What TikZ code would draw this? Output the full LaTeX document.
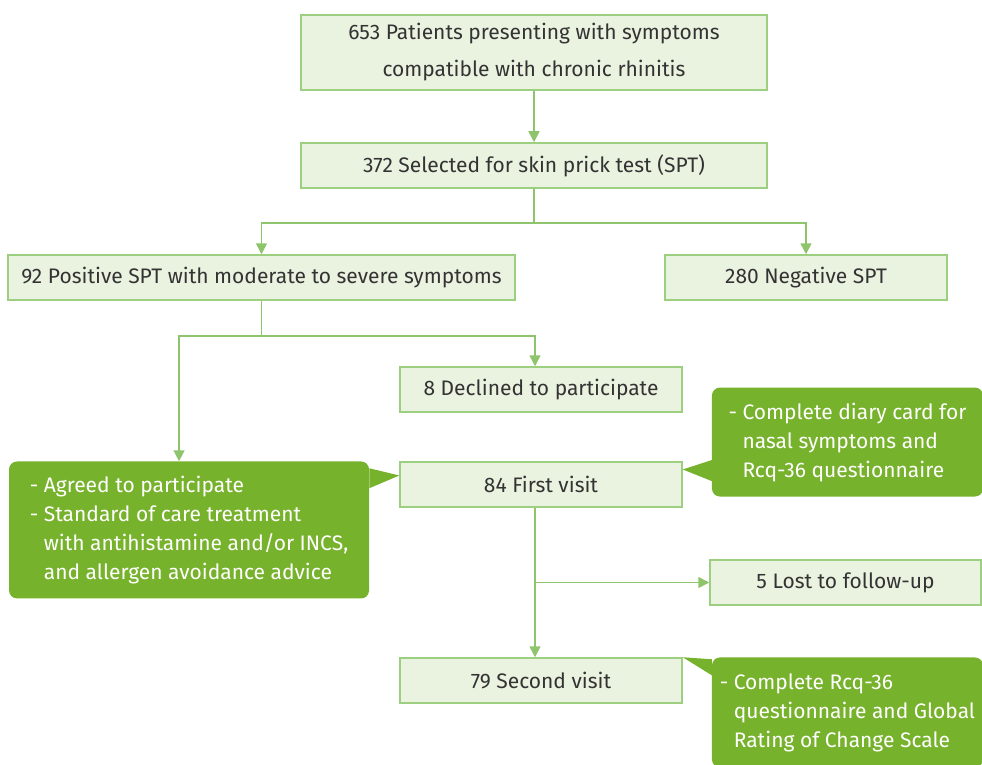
\documentclass[tikz,border=0pt]{standalone}
\usepackage{fontspec}
\setmainfont{Fira Sans}
\usepackage{tikz}
\usetikzlibrary{positioning, arrows.meta}
\definecolor{boxfill}{HTML}{EAF2E0}
\definecolor{boxline}{HTML}{9CCF80}
\definecolor{link}{HTML}{8EC56C}
\definecolor{note}{HTML}{77B22C}
\definecolor{ink}{HTML}{333333}
\tikzset{
  stage/.style   = {rectangle, draw=boxline, line width=1.5pt, fill=boxfill,
                    text=ink, minimum height=45pt, inner sep=0pt,
                    align=center, font=\fontsize{21}{37}\selectfont},
  callout/.style = {rectangle, rounded corners=8pt, fill=note, text=white,
                    inner sep=0pt, align=left, font=\fontsize{21}{29}\selectfont},
  arr/.style     = {-{Triangle[length=11pt,width=11pt]}, line width=1.5pt, draw=link},
}

\begin{document}
\begin{tikzpicture}[x=1pt, y=1pt]
  \useasboundingbox (0,0) rectangle (982,-765);

  % STAGES
  \node[stage, minimum width=466pt, minimum height=75pt] (present) at (534,-52.5)
       {653 Patients presenting with symptoms\\compatible with chronic rhinitis};
  \node[stage, minimum width=466pt, below=51.5pt of present] (select)
       {372 Selected for skin prick test (SPT)};
  \node[stage, minimum width=507pt, below=65.5pt of select, xshift=-272.5pt] (positive)
       {92 Positive SPT with moderate to severe symptoms};
  \node[stage, minimum width=282pt, below=65.5pt of select, xshift=272pt] (negative)
       {280 Negative SPT};
  \node[stage, minimum width=282pt, below=65.5pt of positive, xshift=279.5pt] (declined)
       {8 Declined to participate};
  \node[stage, minimum width=282pt, below=48.5pt of declined] (visit1) {84 First visit};
  \node[stage, minimum width=282pt, below=149.5pt of visit1] (visit2) {79 Second visit};
  \node[stage, minimum width=271pt, below right=51.5pt and 26.5pt of visit1] (lost)
       {5 Lost to follow-up};

  % NOTES
  \node[callout, minimum width=360pt, minimum height=137pt,
        left=30pt of visit1.north west, anchor=north east] (note1)
       {- Agreed to participate\\
        - Standard of care treatment\\
        \phantom{- }with antihistamine and/or INCS,\\
        \phantom{- }and allergen avoidance advice};
  \node[callout, minimum width=271pt, minimum height=109pt,
        right=29pt of visit1.south east, anchor=south west, yshift=11pt] (note2)
       {- Complete diary card for\\
        \phantom{- }nasal symptoms and\\
        \phantom{- }Rcq-36 questionnaire};
  \node[callout, minimum width=271pt, minimum height=110pt,
        right=29pt of visit2.north east, anchor=north west] (note3)
       {- Complete Rcq-36\\
        \phantom{- }questionnaire and Global\\
        \phantom{- }Rating of Change Scale};

  \fill[note] ([yshift=-7pt]note1.north east) -- ([yshift=9pt]visit1.west)
              -- ([yshift=-27pt]note1.north east) -- cycle;
  \fill[note] ([yshift=-18pt]note2.west) -- ([yshift=15pt]visit1.east)
              -- ([yshift=-39pt]note2.west) -- cycle;
  \fill[note] ([yshift=-2pt]note3.north west) -- (visit2.north east)
              -- ([yshift=-18pt]note3.north west) -- cycle;

  % LINKS
  \coordinate[below=34pt of select.south] (split1);
  \coordinate[below=35pt of positive.south] (split2);

  \draw[arr] (present) -- (select);
  \draw[arr] (select.south) -- (split1) -| (positive.north);
  \draw[arr] (split1) -| (negative.north);
  \draw[arr] (positive.south) -- (split2) -| ([xshift=-10pt]note1.north);
  \draw[arr] (split2) -| ([xshift=-6pt]declined.north);
  \draw[arr] ([xshift=-6pt]visit1.south) -- ([xshift=-6pt]visit2.north);
  \draw[arr] ([xshift=-6pt]visit1.south |- lost.west) -- (lost.west);

\end{tikzpicture}
\end{document}
